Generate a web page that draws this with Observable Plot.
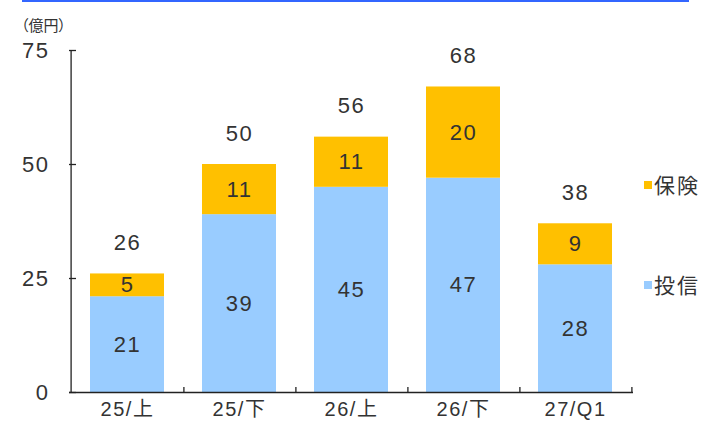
<!DOCTYPE html>
<html>
<head>
<meta charset="utf-8">
<script src="https://cdn.jsdelivr.net/npm/d3@7"></script>
<script src="https://cdn.jsdelivr.net/npm/@observablehq/plot@0.6"></script>
<style>
  body { margin: 0; background: #fff; }
  #wrap { position: relative; width: 703px; height: 424px; overflow: hidden;
    font-family: "Liberation Sans", "Noto Sans CJK JP", sans-serif; color: #333; }
  #topline { position: absolute; left: 22px; top: 0; width: 667px; height: 2px; background: #3366ff; }
  #unit { position: absolute; left: 21px; top: 14px; font-size: 15px; font-family: "Noto Sans CJK JP", sans-serif; color: #333; font-feature-settings: "palt"; white-space: nowrap; }
  .lg { position: absolute; left: 644px; font-size: 21px; font-family: "Noto Sans CJK JP", sans-serif; color: #333; line-height: 1; }
  .lg span.sw { position: absolute; left: 0; width: 8px; height: 8px; }
  .lg span.tx { position: absolute; left: 10px; white-space: nowrap; letter-spacing: 2px; }
  #plot { position: absolute; left: 0; top: 0; }
  #plot text { letter-spacing: 1.5px; }
</style>
</head>
<body>
<div id="wrap">
  <div id="plot"></div>
  <div id="topline"></div>
  <div id="unit">（億円）</div>
  <div id="legend"></div>
</div>
<script>
const categories = ["25/上", "25/下", "26/上", "26/下", "27/Q1"];
const seriesNames = ["投信", "保険"];
const toushin = [21, 39, 45, 47, 28];
const hoken = [5, 11, 11, 20, 9];
const totalLabels = [26, 50, 56, 68, 38];
const yTicks = [0, 25, 50, 75];
const colors = ["#99ccff", "#ffc000"];

const rows = [];
categories.forEach((c, i) => {
  rows.push({cat: c, series: seriesNames[0], y1: 0, y2: toushin[i], v: toushin[i]});
  rows.push({cat: c, series: seriesNames[1], y1: toushin[i], y2: toushin[i] + hoken[i], v: hoken[i]});
});
const totals = categories.map((c, i) => ({cat: c, top: toushin[i] + hoken[i], label: totalLabels[i]}));

const W = 703, H = 424, mL = 69, mR = 70, mT = 50, mB = 32;
const step = (W - mL - mR) / categories.length;
const pxPerUnit = (H - mT - mB) / 75;

const chart = Plot.plot({
  width: W, height: H,
  marginLeft: mL, marginRight: mR, marginTop: mT, marginBottom: mB,
  style: {fontFamily: "'Liberation Sans', 'Noto Sans CJK JP', sans-serif", fontSize: "21px", color: "#333", background: "transparent"},
  x: {type: "band", domain: categories, paddingInner: 0.335, paddingOuter: 0.1675, axis: null},
  y: {domain: [0, 75], axis: null},
  color: {domain: seriesNames, range: colors},
  marks: [
    Plot.barY(rows, {x: "cat", y1: "y1", y2: "y2", fill: "series", inset: 0}),
    Plot.ruleY([0], {stroke: "#222", strokeWidth: 1.3}),
    Plot.ruleX([categories[0]], {y1: 0, y2: 75, dx: -step / 2, stroke: "#222", strokeWidth: 1.3}),
    Plot.ruleX(categories, {y1: 0, y2: 5 / pxPerUnit, dx: step / 2, stroke: "#222", strokeWidth: 1.3}),
    Plot.axisY({ticks: yTicks, tickSize: 7, dx: 7, tickFormat: () => "", stroke: "#222", strokeWidth: 1.3}),
    Plot.text(yTicks, {y: d => d, frameAnchor: "left", dx: -20, textAnchor: "end", text: d => String(d), fill: "#333", fontSize: 22}),
    Plot.text(categories, {x: d => d, frameAnchor: "bottom", dy: 23, text: d => d, fill: "#333", fontSize: 20}),
    Plot.text(rows, {x: "cat", y: d => (d.y1 + d.y2) / 2, text: d => String(d.v), fill: "#333", fontSize: 22}),
    Plot.text(totals, {x: "cat", y: "top", text: d => String(d.label), dy: -31, fill: "#333", fontSize: 22})
  ]
});
document.getElementById("plot").appendChild(chart);

const legendItems = [
  {name: seriesNames[1], color: colors[1], top: 174},
  {name: seriesNames[0], color: colors[0], top: 274}
];
const lg = document.getElementById("legend");
legendItems.forEach(it => {
  const d = document.createElement("div");
  d.className = "lg";
  d.style.top = it.top + "px";
  d.innerHTML = `<span class="sw" style="background:${it.color};top:7px"></span><span class="tx" style="top:0">${it.name}</span>`;
  lg.appendChild(d);
});
</script>
</body>
</html>
